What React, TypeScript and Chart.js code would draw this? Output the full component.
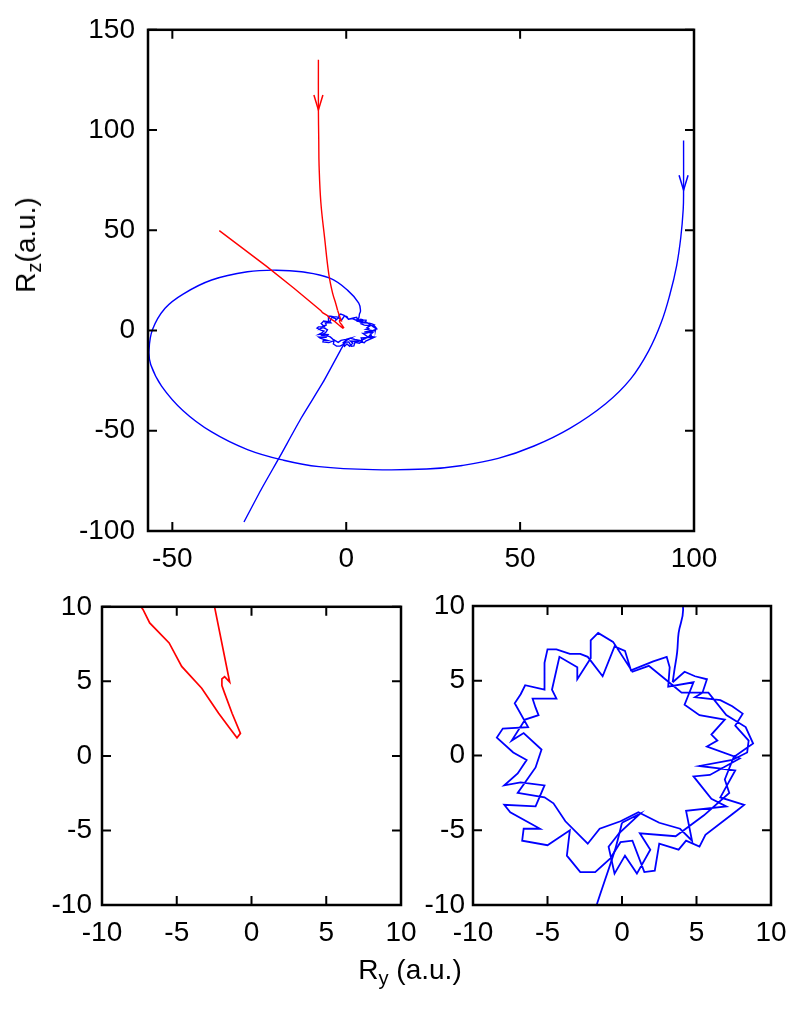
import React, { useEffect, useRef } from "react";
import { Chart, registerables } from "chart.js";

Chart.register(...registerables);

const FONT = "'Liberation Sans', Arial, sans-serif";

// ---- tick values ----
const topXTicks = [-50, 0, 50, 100];
const topYTicks = [-100, -50, 0, 50, 100, 150];
const zoomTicks = [-10, -5, 0, 5, 10];

// ---- red trajectory: smooth descent from the top ----
const redDescentX = [-8.0, -8.0, -7.9, -7.8, -7.3, -6.2, -5.0, -3.9, -3.1, -2.47];
const redDescentY = [135.0, 110.0, 95.0, 82.0, 64.0, 46.0, 28.0, 18.5, 14.0, 10.0];
// ---- red trajectory: hook near the origin and departure up-left ----
const redTurnX = [-2.47, -1.46, -1.8, -1.98, -1.98, -1.8, -1.3, -0.74, -0.97, -1.53, -2.2, -3.33, -4.67, -5.51, -6.81, -7.26, -15.2, -22.9, -30.5, -36.5];
const redTurnY = [10.0, 4.95, 5.31, 5.17, 4.72, 4.21, 2.86, 1.51, 1.21, 1.96, 2.86, 4.54, 6.0, 7.58, 8.92, 9.82, 21.3, 32.0, 42.0, 49.8];

// ---- blue trajectory: large spiral ----
const blueSpiralX = [97.0, 97.0, 96.9, 96.2, 95.0, 93.1, 90.6, 87.0, 81.8, 74.6, 64.3, 54.0, 43.7, 33.4, 23.1, 7.7, -7.8, -18.0, -28.4, -38.7, -46.9, -53.1, -56.2, -56.7, -55.7, -52.1, -46.9, -38.7, -28.4, -20.1, -12.9, -4.7, 0.5, 3.6, 4.1, 3.8, 3.7, 3.5, 3.4];
const blueSpiralY = [94.8, 70.0, 60.5, 46.4, 32.3, 18.2, 4.1, -10.0, -24.1, -36.5, -48.8, -57.6, -63.8, -67.3, -69.1, -69.4, -67.9, -64.7, -59.4, -50.6, -40.0, -27.7, -17.1, -10.0, 0.5, 11.1, 18.2, 25.2, 29.3, 30.1, 29.3, 26.1, 19.9, 13.7, 9.8, 8.2, 6.9, 5.6, 4.9];

// ---- blue trajectory: jagged ring around the origin ----
const blueRingX = [
  3.4, 4.2, 4.9, 5.7, 5.4, 4.9, 6.6, 7.4, 8.1, 7.6, 8.5, 8.4, 7.4, 5.2, 7.6, 6.6, 8.2, 7.7, 5.6, 5.2, 4.3,
  3.8, 2.5, 2.2, 1.5, 0.7, -0.1, -0.8, -1.8, -2.8, -3.7, -3.5, -5.0, -6.7, -6.6, -5.5, -7.5, -7.9, -5.8, -5.2, -6.8,
  -7.9, -7.0, -6.4, -7.3, -8.4, -8.0, -6.3, -7.2, -6.8, -6.5, -5.2, -5.2, -5.0, -4.4, -3.5, -2.8, -2.3, -1.3, -0.5, 0.2,
  0.6, 2.1, 3.0, 3.2, 3.1,
  4.8, 4.2, 5.2, 6.9, 6.0, 6.4, 5.7, 7.9, 5.9, 4.8, 6.0, 7.0, 4.3, 4.7, 3.9, 2.5, 1.1, -0.1, -1.5, -2.3,
  -3.8, -4.6, -5.2, -7.0, -5.8, -5.4, -6.6, -7.4, -6.5, -5.6, -5.8, -6.0, -4.4, -4.7, -4.2, -3.0, -3.0, -2.1, -2.1, -1.6,
  -0.6, 0.7, 1.8,
  3.4, 4.0, 5.8, 7.0, 8.3, 8.8, 7.5, 6.9, 7.2, 5.5, 3.6, 1.2, 1.9, 1.0, 0.2, -0.5, -0.9, -0.2, 1.2, 0.0
];
const blueRingY = [
  4.9, 5.6, 5.3, 5.1, 4.2, 3.9, 3.7, 3.3, 2.8, 2.0, 1.0, 0.2, -0.3, -0.7, -1.0, -2.8, -3.3, -3.7, -5.3, -6.1, -5.7,
  -6.3, -5.9, -7.7, -7.8, -5.7, -5.8, -6.9, -7.8, -7.8, -6.7, -5.0, -6.0, -5.7, -4.9, -4.9, -3.8, -3.3, -3.4, -2.0, -1.8,
  -2.0, -1.2, -0.3, 0.2, 1.2, 1.8, 1.9, 3.5, 4.1, 4.7, 4.4, 6.2, 7.1, 7.1, 6.8, 6.8, 6.6, 5.3, 7.3, 7.0,
  5.7, 6.3, 6.6, 5.9, 4.6,
  4.9, 3.4, 2.7, 2.4, 1.4, 1.0, 0.6, -0.2, -1.3, -1.4, -2.9, -3.4, -3.7, -5.7, -4.9, -4.5, -3.8, -4.4, -4.9, -5.9,
  -4.4, -3.2, -2.8, -2.5, -0.8, 0.4, 1.5, 1.0, 2.4, 2.7, 3.2, 3.8, 3.8, 4.4, 6.6, 5.9, 5.1, 6.5, 7.7, 8.2,
  7.6, 5.6, 6.0,
  4.7, 4.2, 4.2, 2.7, 1.9, 0.8, -0.1, -1.6, -2.5, -4.0, -5.4, -5.2, -6.3, -7.9, -6.7, -7.9, -6.1, -5.2, -3.9, -4.5
];

// ---- blue trajectory: exit toward the lower left ----
const blueExitX = [0.0, -0.45, -1.7, -6.7, -12.9, -19.1, -24.3, -29.4];
const blueExitY = [-4.5, -6.25, -10.0, -25.9, -43.5, -62.9, -78.8, -95.5];

// ---- arrow heads (tip positions in data units) ----
const arrowX = [-8.0, 97.0];
const arrowY = [110.0, 70.0];
const arrowColors = ["#ff0000", "#0000ff"];

const RED = "#ff0000";
const BLUE = "#0000ff";

function pts(xs: number[], ys: number[]) {
  return xs.map((x, i) => ({ x, y: ys[i] }));
}

const framePlugin = {
  id: "frame",
  afterDatasetsDraw(chart: any) {
    const { ctx, chartArea: a, scales } = chart;
    const L = 9;
    ctx.save();
    ctx.strokeStyle = "#000";
    ctx.lineWidth = 2;
    ctx.beginPath();
    for (const t of scales.x.ticks) {
      const px = scales.x.getPixelForValue(t.value);
      ctx.moveTo(px, a.bottom);
      ctx.lineTo(px, a.bottom - L);
      ctx.moveTo(px, a.top);
      ctx.lineTo(px, a.top + L);
    }
    for (const t of scales.y.ticks) {
      const py = scales.y.getPixelForValue(t.value);
      ctx.moveTo(a.left, py);
      ctx.lineTo(a.left + L, py);
      ctx.moveTo(a.right, py);
      ctx.lineTo(a.right - L, py);
    }
    ctx.stroke();
    ctx.lineWidth = 2.5;
    ctx.strokeRect(a.left, a.top, a.right - a.left, a.bottom - a.top);
    ctx.restore();
  },
};

const arrowPlugin = {
  id: "arrowHeads",
  afterDatasetsDraw(chart: any, _args: any, opts: any) {
    if (!opts || !opts.xs) return;
    const { ctx, scales, chartArea: a } = chart;
    ctx.save();
    ctx.lineWidth = 1.5;
    for (let i = 0; i < opts.xs.length; i++) {
      const px = scales.x.getPixelForValue(opts.xs[i]);
      const py = scales.y.getPixelForValue(opts.ys[i]);
      if (px < a.left || px > a.right || py < a.top || py > a.bottom) continue;
      ctx.strokeStyle = opts.colors[i];
      ctx.beginPath();
      ctx.moveTo(px - 4.5, py - 15);
      ctx.lineTo(px, py);
      ctx.lineTo(px + 4.5, py - 15);
      ctx.stroke();
    }
    ctx.restore();
  },
};

interface PanelSpec {
  xMin: number; xMax: number; yMin: number; yMax: number;
  xTicks: number[]; yTicks: number[];
  yAxisWidth: number; xAxisHeight: number;
  padTop: number; padRight: number;
  yTickPad: number; xTickPad: number;
  lineWidth: number;
  arrows: boolean;
  red: boolean;
  blue: boolean;
}

function line(xs: number[], ys: number[], color: string, width: number, tension: number) {
  return { data: pts(xs, ys), showLine: true, borderColor: color, backgroundColor: color, borderWidth: width, pointRadius: 0, tension, fill: false };
}

function makeConfig(s: PanelSpec): any {
  const tickFont = { family: FONT, size: 28 };
  const datasets: any[] = [];
  if (s.red) {
    datasets.push(line(redDescentX, redDescentY, RED, s.lineWidth, 0.4));
    datasets.push(line(redTurnX, redTurnY, RED, s.lineWidth, 0));
  }
  if (s.blue) {
    datasets.push(line(blueSpiralX, blueSpiralY, BLUE, s.lineWidth, 0.4));
    datasets.push(line(blueRingX, blueRingY, BLUE, s.lineWidth, 0));
    datasets.push(line(blueExitX, blueExitY, BLUE, s.lineWidth, 0.2));
  }
  return {
    type: "scatter",
    data: { datasets },
    options: {
      responsive: false,
      animation: false,
      devicePixelRatio: 1,
      layout: { padding: { left: 0, top: s.padTop, right: s.padRight, bottom: 0 } },
      plugins: {
        legend: { display: false },
        tooltip: { enabled: false },
        arrowHeads: s.arrows ? { xs: arrowX, ys: arrowY, colors: arrowColors } : {},
      },
      scales: {
        x: {
          type: "linear",
          min: s.xMin,
          max: s.xMax,
          afterBuildTicks: (sc: any) => { sc.ticks = s.xTicks.map((v) => ({ value: v })); },
          afterFit: (sc: any) => { sc.height = s.xAxisHeight; },
          grid: { display: false, drawTicks: false },
          border: { display: false },
          ticks: { font: tickFont, color: "#000", padding: s.xTickPad, autoSkip: false, maxRotation: 0, callback: (v: any) => String(v) },
        },
        y: {
          type: "linear",
          min: s.yMin,
          max: s.yMax,
          afterBuildTicks: (sc: any) => { sc.ticks = s.yTicks.map((v) => ({ value: v })); },
          afterFit: (sc: any) => { sc.width = s.yAxisWidth; },
          grid: { display: false, drawTicks: false },
          border: { display: false },
          ticks: { font: tickFont, color: "#000", padding: s.yTickPad, autoSkip: false, callback: (v: any) => String(v) },
        },
      },
    },
    plugins: [framePlugin, arrowPlugin],
  };
}

function Panel(props: { left: number; top: number; width: number; height: number; spec: PanelSpec }) {
  const ref = useRef<HTMLCanvasElement | null>(null);
  useEffect(() => {
    if (!ref.current) return;
    const chart = new Chart(ref.current, makeConfig(props.spec));
    return () => chart.destroy();
  }, []);
  return (
    <canvas
      ref={ref}
      width={props.width}
      height={props.height}
      style={{ position: "absolute", left: props.left, top: props.top, width: props.width, height: props.height }}
    />
  );
}

const topSpec: PanelSpec = {
  xMin: -57, xMax: 100, yMin: -100, yMax: 150,
  xTicks: topXTicks, yTicks: topYTicks,
  yAxisWidth: 148, xAxisHeight: 59, padTop: 24, padRight: 106,
  yTickPad: 13, xTickPad: 11, lineWidth: 1.4, arrows: true, red: true, blue: true,
};

const leftSpec: PanelSpec = {
  xMin: -10, xMax: 10, yMin: -10, yMax: 10,
  xTicks: zoomTicks, yTicks: zoomTicks,
  yAxisWidth: 102, xAxisHeight: 106, padTop: 26, padRight: 39,
  yTickPad: 10, xTickPad: 11, lineWidth: 1.7, arrows: false, red: true, blue: false,
};

const rightSpec: PanelSpec = {
  xMin: -10, xMax: 10, yMin: -10, yMax: 10,
  xTicks: zoomTicks, yTicks: zoomTicks,
  yAxisWidth: 73, xAxisHeight: 106, padTop: 26, padRight: 29,
  yTickPad: 8, xTickPad: 11, lineWidth: 1.8, arrows: false, red: false, blue: true,
};

const subStyle: React.CSSProperties = { fontSize: "0.72em", verticalAlign: "-0.3em", lineHeight: 0 };

export default function App() {
  return (
    <div style={{ position: "absolute", left: 0, top: 0, width: 800, height: 1011, background: "#fff", overflow: "hidden" }}>
      <Panel left={0} top={0} width={800} height={590} spec={topSpec} />
      <Panel left={0} top={580} width={440} height={431} spec={leftSpec} />
      <Panel left={400} top={580} width={400} height={431} spec={rightSpec} />
      <div
        style={{
          position: "absolute", left: 26, top: 245, transform: "translate(-50%, -50%) rotate(-90deg)",
          fontFamily: FONT, fontSize: 28, lineHeight: 1, whiteSpace: "nowrap", color: "#000",
        }}
      >
        R<sub style={subStyle}>z</sub>(a.u.)
      </div>
      <div
        style={{
          position: "absolute", left: 410, top: 970, transform: "translate(-50%, -50%)",
          fontFamily: FONT, fontSize: 28, lineHeight: 1, whiteSpace: "nowrap", color: "#000",
        }}
      >
        R<sub style={subStyle}>y</sub> (a.u.)
      </div>
    </div>
  );
}
